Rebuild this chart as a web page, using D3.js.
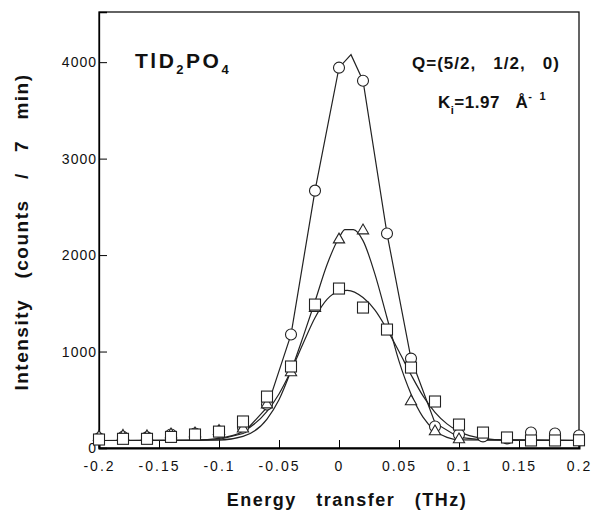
<!DOCTYPE html>
<html>
<head>
<meta charset="utf-8">
<script src="https://cdn.jsdelivr.net/npm/d3@7"></script>
<style>
  body { margin: 0; background: #fff; }
  text { font-family: "Liberation Sans", Arial, sans-serif; fill: #111; }
</style>
</head>
<body>
<div id="chart"></div>
<script>
// measured points (energy transfer in THz, counts / 7 min)
const energy = [-0.2, -0.18, -0.16, -0.14, -0.12, -0.1, -0.08, -0.06, -0.04, -0.02, 0,
  0.02, 0.04, 0.06, 0.08, 0.1, 0.12, 0.14, 0.16, 0.18, 0.2];
const circleCounts = [100, 115, 110, 140, 150, 170, 210, 450, 1176, 2668, 3943,
  3808, 2223, 927, 223, 140, 120, 100, 160, 150, 130];
const triangleEnergy = [-0.2, -0.18, -0.16, -0.14, -0.12, -0.1, -0.08, -0.06, -0.04, -0.02, 0,
  0.02, 0.06, 0.08, 0.1];
const triangleCounts = [115, 125, 120, 140, 150, 175, 200, 450, 782, 1450, 2160,
  2254, 482, 171, 88];
const squareCounts = [88, 95, 95, 115, 140, 170, 275, 533, 845, 1487, 1653,
  1456, 1228, 834, 482, 243, 160, 109, 78, 78, 80];

// fitted lines as drawn on the figure
const circleFitX = [-0.2, -0.12, -0.1, -0.08, -0.06, -0.04, -0.02, 0, 0.01, 0.02, 0.04, 0.06, 0.08, 0.1, 0.12, 0.2];
const circleFitY = [78, 80, 88, 150, 420, 1176, 2668, 3943, 4078, 3808, 2223, 927, 260, 110, 85, 80];
const triangleFitX = [-0.2, -0.1, -0.08, -0.06, -0.05, -0.04, -0.03, -0.02, -0.01, 0, 0.005, 0.012,
  0.02, 0.03, 0.04, 0.05, 0.06, 0.07, 0.08, 0.09, 0.1, 0.2];
const triangleFitY = [78, 82, 120, 300, 500, 800, 1150, 1520, 1900, 2180, 2264, 2264,
  2150, 1800, 1350, 900, 560, 320, 180, 110, 85, 78];
const squareFitX = [-0.2, -0.12, -0.1, -0.08, -0.06, -0.05, -0.04, -0.03, -0.02, -0.01, 0, 0.007,
  0.02, 0.03, 0.04, 0.05, 0.06, 0.07, 0.08, 0.09, 0.1, 0.12, 0.14, 0.2];
const squareFitY = [78, 82, 100, 170, 380, 560, 800, 1080, 1350, 1540, 1625, 1635,
  1560, 1430, 1230, 1000, 760, 540, 370, 250, 170, 100, 82, 78];

const xTicks = [-0.2, -0.15, -0.1, -0.05, 0, 0.05, 0.1, 0.15, 0.2];
const yTicks = [0, 1000, 2000, 3000, 4000];

const margin = { top: 12, right: 15, bottom: 66, left: 99 };
const width = 594 - margin.left - margin.right;
const height = 514 - margin.top - margin.bottom;

const svg = d3.select('#chart')
  .append('svg')
  .attr('width', 594)
  .attr('height', 514)
  .append('g')
  .attr('transform', `translate(${margin.left},${margin.top})`);

const x = d3.scaleLinear().domain([-0.2, 0.2]).range([0, width]);
const y = d3.scaleLinear().domain([0, 4520]).range([height, 0]);

// frame
svg.append('rect')
  .attr('width', width).attr('height', height)
  .attr('fill', 'none').attr('stroke', '#111').attr('stroke-width', 1.3);

// x axis, ticks point inward
const xAxis = svg.append('g')
  .attr('transform', `translate(0,${height})`)
  .call(d3.axisBottom(x).tickValues(xTicks).tickSize(-8).tickPadding(13)
    .tickFormat(d => String(d)));
xAxis.select('.domain').attr('stroke-width', 2);
xAxis.selectAll('text').style('font-size', '14px').style('letter-spacing', '2px');

const yAxis = svg.append('g')
  .call(d3.axisLeft(y).tickValues(yTicks).tickSize(-8).tickPadding(2).tickFormat(d3.format('d')));
yAxis.select('.domain').attr('stroke-width', 1.3);
yAxis.selectAll('text').style('font-size', '14px').style('letter-spacing', '1px');

// fitted curves
const line = d3.line().curve(d3.curveMonotoneX)
  .x(d => x(d[0])).y(d => y(d[1]));
const polyline = d3.line().x(d => x(d[0])).y(d => y(d[1]));
[[circleFitX, circleFitY, polyline], [triangleFitX, triangleFitY, line], [squareFitX, squareFitY, line]].forEach(([fx, fy, gen]) => {
  svg.append('path')
    .datum(fx.map((v, i) => [v, fy[i]]))
    .attr('d', gen)
    .attr('fill', 'none')
    .attr('stroke', '#222')
    .attr('stroke-width', 1.2);
});

// markers
svg.selectAll('.circ')
  .data(energy.map((v, i) => [v, circleCounts[i]]))
  .enter().append('circle')
  .attr('cx', d => x(d[0])).attr('cy', d => y(d[1])).attr('r', 5.5)
  .attr('fill', '#fff').attr('stroke', '#222').attr('stroke-width', 1.1);

const tri = d3.symbol().type(d3.symbolTriangle).size(55);
svg.selectAll('.tri')
  .data(triangleEnergy.map((v, i) => [v, triangleCounts[i]]))
  .enter().append('path')
  .attr('d', tri)
  .attr('transform', d => `translate(${x(d[0])},${y(d[1])})`)
  .attr('fill', '#fff').attr('stroke', '#222').attr('stroke-width', 1.1);

svg.selectAll('.sq')
  .data(energy.map((v, i) => [v, squareCounts[i]]))
  .enter().append('rect')
  .attr('x', d => x(d[0]) - 5.5).attr('y', d => y(d[1]) - 5.5)
  .attr('width', 11).attr('height', 11)
  .attr('fill', '#fff').attr('stroke', '#222').attr('stroke-width', 1.1);

// annotations
const t1 = svg.append('text').attr('x', 36).attr('y', 56)
  .style('font-size', '21px').style('font-weight', 'bold').style('letter-spacing', '2.5px');
t1.append('tspan').text('TlD');
t1.append('tspan').attr('dy', 6).style('font-size', '13px').text('2');
t1.append('tspan').attr('dy', -6).text('PO');
t1.append('tspan').attr('dy', 6).style('font-size', '13px').text('4');

svg.append('text').attr('x', 313).attr('y', 57)
  .style('font-size', '17px').style('font-weight', 'bold').style('letter-spacing', '1px')
  .attr('xml:space', 'preserve')
  .text('Q=(5/2,   1/2,   0)');

const t2 = svg.append('text').attr('x', 339).attr('y', 96)
  .style('font-size', '17px').style('font-weight', 'bold').style('letter-spacing', '0.5px')
  .attr('xml:space', 'preserve');
t2.append('tspan').text('K');
t2.append('tspan').attr('dy', 6).style('font-size', '11px').text('i');
t2.append('tspan').attr('dy', -6).text('=1.97   Å');
t2.append('tspan').attr('dy', -8).style('font-size', '11px').text('-  1');

// axis titles
svg.append('text')
  .attr('x', width / 2 + 8).attr('y', height + 58)
  .attr('text-anchor', 'middle')
  .style('font-size', '18px').style('font-weight', 'bold').style('letter-spacing', '1.5px')
  .attr('xml:space', 'preserve')
  .text('Energy   transfer   (THz)');

svg.append('text')
  .attr('transform', 'rotate(-90)')
  .attr('x', -(height / 2) - 2).attr('y', -71)
  .attr('text-anchor', 'middle')
  .style('font-size', '19px').style('font-weight', 'bold').style('letter-spacing', '1.5px')
  .attr('xml:space', 'preserve')
  .text('Intensity   (counts   /   7   min)');
</script>
</body>
</html>
